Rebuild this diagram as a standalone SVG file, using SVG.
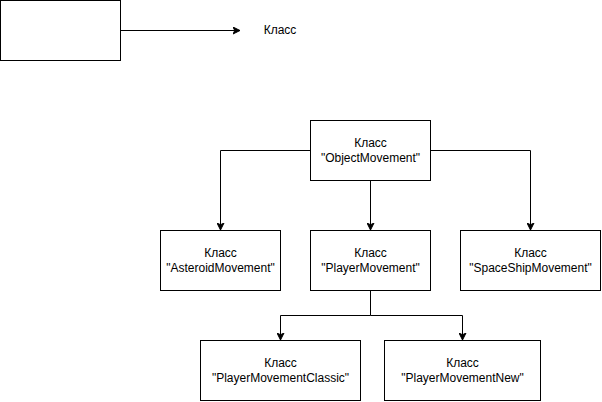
<svg xmlns="http://www.w3.org/2000/svg" width="602" height="402" viewBox="0 0 602 402">
<style>
.box{fill:#fff;stroke:#000;stroke-width:1}
.lbl{font-family:"Liberation Sans",Arial,sans-serif;font-size:12px;fill:#000;text-anchor:middle}
.edge{fill:none;stroke:#000;stroke-width:1}
</style>
<defs>
<marker id="arr" markerWidth="8" markerHeight="8" viewBox="0 0 8 8" refX="7" refY="4" orient="auto" markerUnits="userSpaceOnUse">
<path d="M0,0.5 L7,4 L0,7.5 L1.75,4 Z" fill="#000" stroke="#000" stroke-width="1"/>
</marker>
</defs>
<rect width="602" height="402" fill="#fff"/>
<g id="legend-box"><rect class="box" x="0.5" y="0.5" width="120" height="60"/></g>
<g id="legend-label"><text class="lbl" x="280" y="34">Класс</text></g>
<g id="ObjectMovement"><rect class="box" x="310.5" y="120.5" width="120" height="60"/><text class="lbl" x="370.5" y="147">Класс</text><text class="lbl" x="370.5" y="162">"ObjectMovement"</text></g>
<g id="AsteroidMovement"><rect class="box" x="160.5" y="230.5" width="120" height="60"/><text class="lbl" x="220.5" y="257">Класс</text><text class="lbl" x="220.5" y="272">"AsteroidMovement"</text></g>
<g id="PlayerMovement"><rect class="box" x="310.5" y="230.5" width="120" height="60"/><text class="lbl" x="370.5" y="257">Класс</text><text class="lbl" x="370.5" y="272">"PlayerMovement"</text></g>
<g id="SpaceShipMovement"><rect class="box" x="460.5" y="230.5" width="140" height="60"/><text class="lbl" x="530.5" y="257">Класс</text><text class="lbl" x="530.5" y="272">"SpaceShipMovement"</text></g>
<g id="PlayerMovementClassic"><rect class="box" x="200.5" y="340.5" width="160" height="60"/><text class="lbl" x="280.5" y="367">Класс</text><text class="lbl" x="280.5" y="382">"PlayerMovementClassic"</text></g>
<g id="PlayerMovementNew"><rect class="box" x="384.5" y="340.5" width="156" height="60"/><text class="lbl" x="462.5" y="367">Класс</text><text class="lbl" x="462.5" y="382">"PlayerMovementNew"</text></g>
<g id="connectors">
<path class="edge" d="M120.5,30.5 H240" marker-end="url(#arr)"/>
<path class="edge" d="M310.5,150.5 H220.5 V230" marker-end="url(#arr)"/>
<path class="edge" d="M370.5,180.5 V230" marker-end="url(#arr)"/>
<path class="edge" d="M430.5,150.5 H530.5 V230" marker-end="url(#arr)"/>
<path class="edge" d="M370.5,290.5 V315.5 H280.5 V340" marker-end="url(#arr)"/>
<path class="edge" d="M370.5,315.5 H462.5 V340" marker-end="url(#arr)"/>
</g>
</svg>
